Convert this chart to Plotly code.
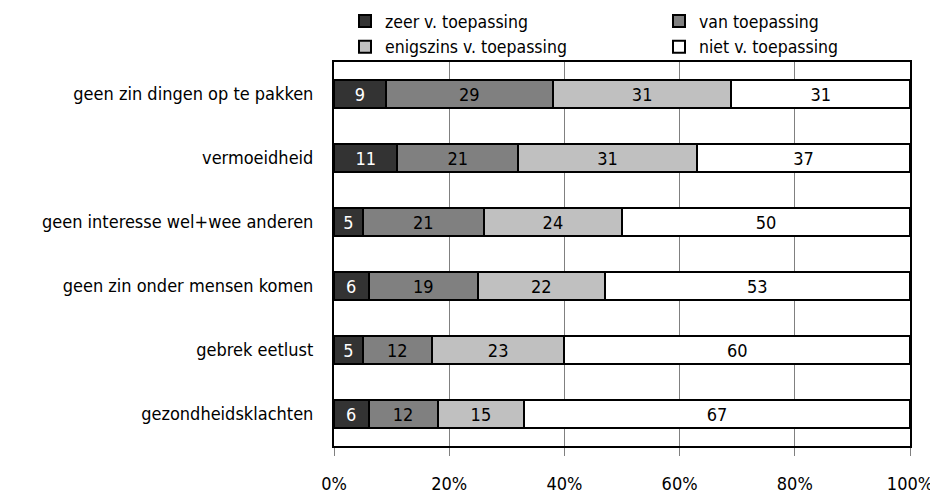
import plotly.graph_objects as go

categories = [
    "geen zin dingen op te pakken",
    "vermoeidheid",
    "geen interesse wel+wee anderen",
    "geen zin onder mensen komen",
    "gebrek eetlust",
    "gezondheidsklachten",
]
series_names = ["zeer v. toepassing", "van toepassing", "enigszins v. toepassing", "niet v. toepassing"]
zeer = [9, 11, 5, 6, 5, 6]
van = [29, 21, 21, 19, 12, 12]
enigszins = [31, 31, 24, 22, 23, 15]
niet = [31, 37, 50, 53, 60, 67]
tick_vals = [0, 20, 40, 60, 80, 100]
tick_text = ["0%", "20%", "40%", "60%", "80%", "100%"]

colors = ["#333333", "#808080", "#c0c0c0", "#ffffff"]
text_colors = ["white", "black", "black", "black"]
legends = ["legend", "legend2", "legend", "legend2"]
FONT = "Liberation Sans Narrow, DejaVu Sans Condensed, sans-serif"

# page has an 8px body margin; figure is sized to fit the window
OFF = 8
W, H = 938 - OFF, 498 - OFF
L, R, T, B = 334 - OFF, 28, 62 - OFF, 52
PW, PH = W - L - R, H - T - B

fig = go.Figure()
for name, vals, c, tc, lg in zip(series_names, [zeer, van, enigszins, niet], colors, text_colors, legends):
    fig.add_trace(go.Bar(
        y=categories, x=vals, name=name, orientation="h",
        marker=dict(color=c, line=dict(color="black", width=2)),
        text=[str(v) for v in vals], textposition="inside",
        insidetextanchor="middle", textangle=0,
        textfont=dict(size=18, color=tc, family=FONT),
        legend=lg, hoverinfo="skip",
    ))

legend_common = dict(
    orientation="v", font=dict(size=17.5), traceorder="normal",
    bgcolor="rgba(0,0,0,0)", itemwidth=30, tracegroupgap=0,
    xanchor="left", yanchor="top", borderwidth=0,
)
fig.update_layout(
    barmode="stack",
    bargap=0.57,
    width=W, height=H,
    margin=dict(l=L, r=R, t=T, b=B, autoexpand=False),
    plot_bgcolor="white", paper_bgcolor="white",
    font=dict(family=FONT, size=18, color="black"),
    uniformtext=dict(minsize=18, mode="show"),
    showlegend=True,
    legend=dict(x=(345 - 334) / PW, y=1 + (T + 5) / PH, **legend_common),
    legend2=dict(x=(659 - 334) / PW, y=1 + (T + 5) / PH, **legend_common),
)

fig.update_xaxes(
    range=[0, 100], tickvals=tick_vals, ticktext=tick_text,
    showgrid=True, gridcolor="#808080", gridwidth=1,
    ticks="outside", ticklen=8, tickcolor="#808080", tickwidth=1,
    showline=True, linecolor="black", linewidth=2, mirror=True,
    zeroline=False, ticklabelstandoff=12, automargin=False,
    tickfont=dict(size=18),
)
fig.update_yaxes(
    autorange="reversed", showgrid=False,
    showline=True, linecolor="black", linewidth=2, mirror=True,
    ticks="", ticklabelstandoff=15, tickfont=dict(size=18), automargin=False,
)

fig.write_html("out.html")
